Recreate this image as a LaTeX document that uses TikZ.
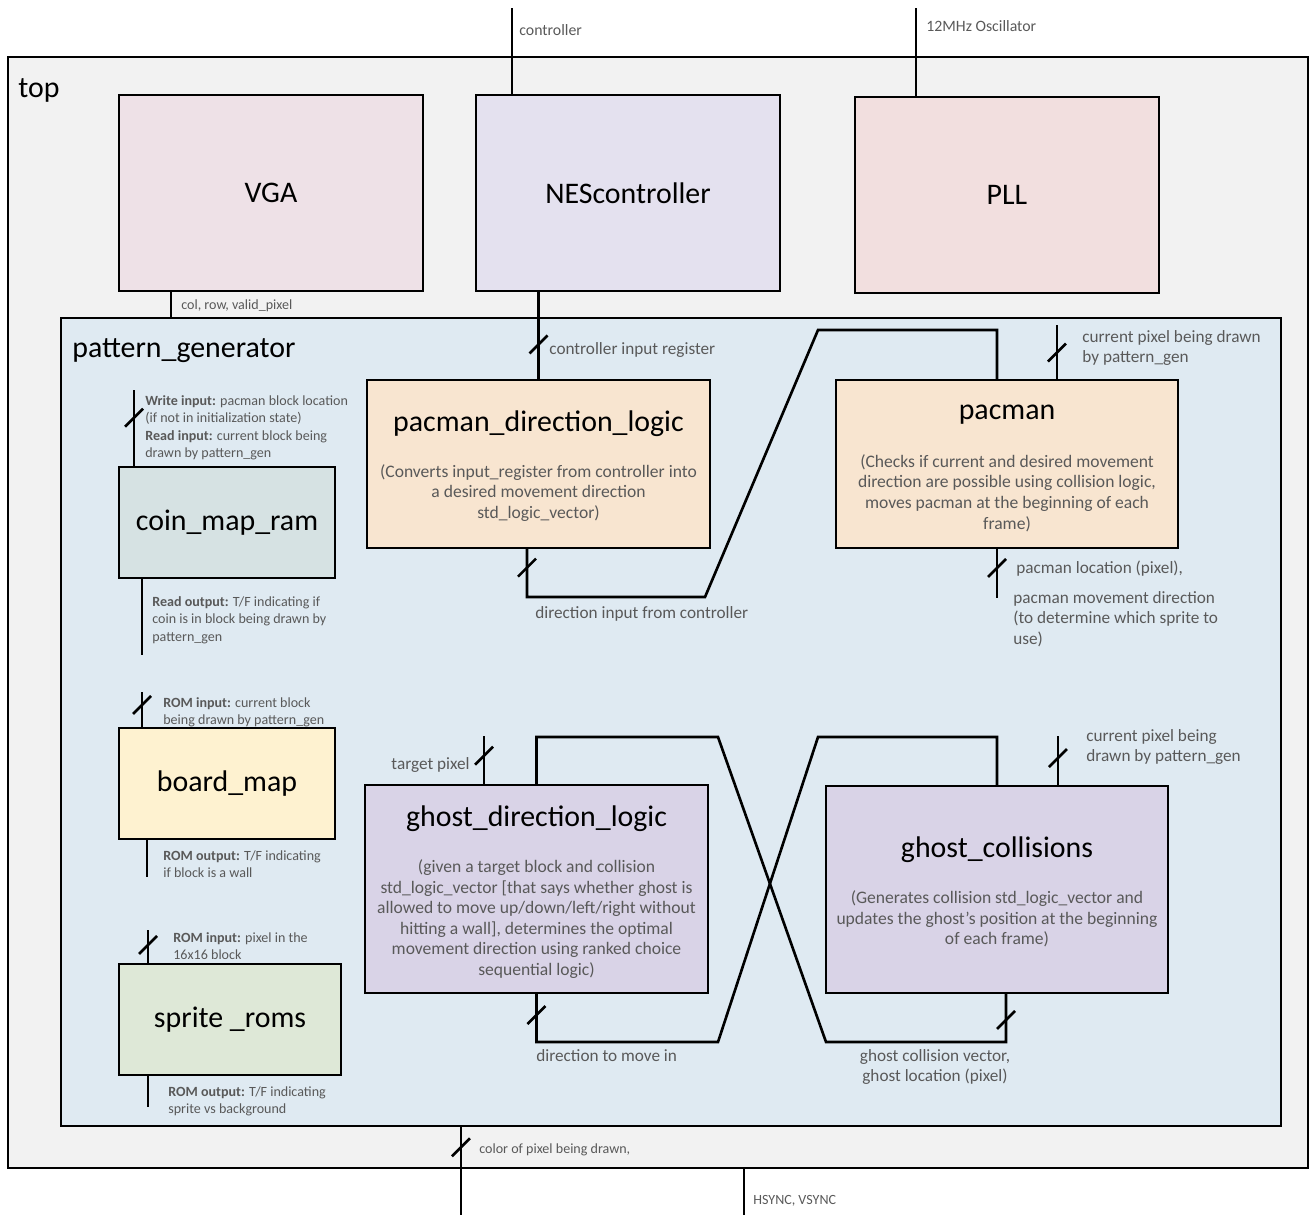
\documentclass[tikz,border=0pt]{standalone}
\usepackage{fontspec}
\setmainfont{Carlito}
\usetikzlibrary{calc}

\definecolor{topfill}{HTML}{F2F2F2}
\definecolor{pgfill}{HTML}{DFEAF2}
\definecolor{vgafill}{HTML}{EEE1E7}
\definecolor{nesfill}{HTML}{E4E1EF}
\definecolor{pllfill}{HTML}{F2DFDF}
\definecolor{pacfill}{HTML}{F8E5D0}
\definecolor{coinfill}{HTML}{D6E2E3}
\definecolor{boardfill}{HTML}{FEF2D0}
\definecolor{spritefill}{HTML}{DEE8D7}
\definecolor{ghostfill}{HTML}{D9D3E7}
\definecolor{labelgray}{HTML}{595959}

\begin{document}
\begin{tikzpicture}[x=0.02cm, y=-0.02cm,
  wire/.style={line width=1.5pt},
  thinwire/.style={line width=0.9pt},
  container/.style={draw, line width=1.2pt, inner sep=0pt, outer sep=0pt},
  module/.style={draw, line width=1.6pt, inner sep=0pt, outer sep=0pt, font=\fontsize{17}{20}\selectfont},
  ttl/.style={inner sep=0pt, font=\fontsize{17}{20}\selectfont},
  desc/.style={inner sep=0pt, align=center, text=labelgray, font=\fontsize{10}{11.7}\selectfont},
  lbl/.style={inner sep=0pt, align=left, text=labelgray, font=\fontsize{9.8}{11.7}\selectfont},
  smalllbl/.style={lbl, font=\fontsize{8}{10}\selectfont},
  busmark/.pic={\draw[wire] (-9,9) -- (9,-9);}]
  \useasboundingbox (0,0) rectangle (1310,1215);

  % containers
  \node[container, fill=topfill, minimum width=26cm, minimum height=22.22cm] (topmod) at (658,612.5) {};
  \node[ttl, anchor=north west] (toplbl) at (18,78) {top};
  \node[container, fill=pgfill, minimum width=24.4cm, minimum height=16.16cm] (pg) at (671,722) {};
  \node[ttl, anchor=north west] (pglbl) at (72,338) {pattern\_generator};

  % top level modules
  \node[module, fill=vgafill, minimum width=6.08cm, minimum height=3.92cm] (vga) at (271,193) {VGA};
  \node[module, fill=nesfill, minimum width=6.08cm, minimum height=3.92cm] (nes) at (628,193) {NEScontroller};
  \node[module, fill=pllfill, minimum width=6.08cm, minimum height=3.92cm] (pll) at (1007,195) {PLL};

  % memories
  \node[module, fill=coinfill, minimum width=4.32cm, minimum height=2.22cm] (coin) at (227,522.5) {coin\_map\_ram};
  \node[module, fill=boardfill, minimum width=4.32cm, minimum height=2.22cm] (board) at (227,783.5) {board\_map};
  \node[module, fill=spritefill, minimum width=4.44cm, minimum height=2.22cm] (sprite) at (230,1019.5) {sprite \_roms};

  % pacman logic
  \node[module, fill=pacfill, minimum width=6.86cm, minimum height=3.36cm] (pdl) at (538.5,464) {};
  \node[ttl] (pdlttl) at ($(pdl.north)+(0,44)$) {pacman\_direction\_logic};
  \node[desc] (pdldesc) at ($(pdl.north)+(0,113)$) {(Converts input\_register from controller into\\a desired movement direction\\std\_logic\_vector)};
  \node[module, fill=pacfill, minimum width=6.84cm, minimum height=3.36cm] (pac) at (1007,464) {};
  \node[ttl] (pacttl) at ($(pac.north)+(0,35)$) {pacman};
  \node[desc] (pacdesc) at ($(pac.north)+(0,113)$) {(Checks if current and desired movement\\direction are possible using collision logic,\\moves pacman at the beginning of each\\frame)};

  % ghost logic
  \node[module, fill=ghostfill, minimum width=6.86cm, minimum height=4.16cm] (gdl) at (536.5,889) {};
  \node[ttl] (gdlttl) at ($(gdl.north)+(0,34)$) {ghost\_direction\_logic};
  \node[desc] (gdldesc) at ($(gdl.north)+(0,134)$) {(given a target block and collision\\std\_logic\_vector [that says whether ghost is\\allowed to move up/down/left/right without\\hitting a wall], determines the optimal\\movement direction using ranked choice\\sequential logic)};
  \node[module, fill=ghostfill, minimum width=6.84cm, minimum height=4.14cm] (gc) at (997,889.5) {};
  \node[ttl] (gcttl) at ($(gc.north)+(0,64)$) {ghost\_collisions};
  \node[desc] (gcdesc) at ($(gc.north)+(0,133)$) {(Generates collision std\_logic\_vector and\\updates the ghost’s position at the beginning\\of each frame)};

  % external inputs
  \coordinate (ctrlIn) at (512,8);
  \draw[thinwire] (ctrlIn) -- (ctrlIn |- nes.north);
  \node[lbl, font=\fontsize{9}{11}\selectfont, anchor=north west] (ctrllbl) at (519,24) {controller};
  \coordinate (oscIn) at (916,8);
  \draw[thinwire] (oscIn) -- (oscIn |- pll.north);
  \node[lbl, font=\fontsize{9}{11}\selectfont, anchor=north west] (osclbl) at (926,20) {12MHz Oscillator};

  % pattern_generator -> VGA
  \coordinate (vgaIn) at ([xshift=-2cm]vga.south);
  \draw[wire] (vgaIn) -- (vgaIn |- pg.north);
  \node[smalllbl, anchor=north west] (vgalbl) at (181,299) {col, row, valid\_pixel};

  % NEScontroller -> pacman_direction_logic
  \draw[wire] (nes.south -| pdl.north) -- pic[pos=.6]{busmark} (pdl.north);
  \node[lbl, anchor=north west] (reglbl) at (549,342) {controller input register};

  % pacman_direction_logic -> pacman
  \coordinate (pdlOut) at ([xshift=-0.23cm]pdl.south);
  \coordinate (dirA) at (705,597);
  \coordinate (dirB) at (818,330);
  \coordinate (pacIn) at ([xshift=-0.2cm]pac.north);
  \draw[wire] (pdlOut) -- pic[pos=.4]{busmark} (pdlOut |- dirA) -- (dirA) -- (dirB) -- (dirB -| pacIn) -- (pacIn);
  \node[lbl, anchor=north west] (dirlbl) at (535,606) {direction input from controller};

  \coordinate (pacPix) at (1057,325);
  \draw[wire] (pacPix) -- pic[pos=.5]{busmark} (pacPix |- pac.north);
  \node[lbl, anchor=north west] (paclblA) at (1082,330) {current pixel being drawn\\by pattern\_gen};
  \coordinate (pacOut) at (997,598);
  \draw[wire] (pacOut |- pac.south) -- pic[pos=.4]{busmark} (pacOut);
  \node[lbl, anchor=north west] (paclblB) at (1016,561) {pacman location (pixel),};
  \node[lbl, anchor=north west] (paclblC) at (1013,591) {pacman movement direction\\(to determine which sprite to\\use)};

  % memory ports
  \coordinate (coinIn) at (134,390);
  \draw[wire] (coinIn) -- pic[pos=.36]{busmark} (coinIn |- coin.north);
  \node[smalllbl, anchor=north west] (coinlblA) at (145,395) {\textbf{Write input:} pacman block location\\(if not in initialization state)\\\textbf{Read input:} current block being\\drawn by pattern\_gen};
  \coordinate (coinOut) at (142,655);
  \draw[wire] (coinOut |- coin.south) -- (coinOut);
  \node[smalllbl, anchor=north west] (coinlblB) at (152,596) {\textbf{Read output:} T/F indicating if\\coin is in block being drawn by\\pattern\_gen};

  \coordinate (boardIn) at (142,692);
  \draw[wire] (boardIn) -- pic[pos=.36]{busmark} (boardIn |- board.north);
  \node[smalllbl, anchor=north west] (boardlblA) at (163,697) {\textbf{ROM input:} current block\\being drawn by pattern\_gen};
  \coordinate (boardOut) at (147,877);
  \draw[wire] (boardOut |- board.south) -- (boardOut);
  \node[smalllbl, anchor=north west] (boardlblB) at (163,850) {\textbf{ROM output:} T/F indicating\\if block is a wall};

  \coordinate (spriteIn) at (148,930);
  \draw[wire] (spriteIn) -- pic[pos=.44]{busmark} (spriteIn |- sprite.north);
  \node[smalllbl, anchor=north west] (spritelblA) at (173,932) {\textbf{ROM input:} pixel in the\\16x16 block};
  \coordinate (spriteOut) at (148,1107);
  \draw[wire] (spriteOut |- sprite.south) -- (spriteOut);
  \node[smalllbl, anchor=north west] (spritelblB) at (168,1086) {\textbf{ROM output:} T/F indicating\\sprite vs background};

  % ghost ports
  \coordinate (tgtIn) at (484,736);
  \draw[wire] (tgtIn) -- pic[pos=.4]{busmark} (tgtIn |- gdl.north);
  \node[lbl, anchor=north east] (tgtlbl) at (470,757) {target pixel};
  \coordinate (gcPix) at (1058,736);
  \draw[wire] (gcPix) -- pic[pos=.44]{busmark} (gcPix |- gc.north);
  \node[lbl, anchor=north west] (gclblA) at (1086,729) {current pixel being\\drawn by pattern\_gen};

  % crossing wires between the ghost modules
  \coordinate (crossTL) at (718,737);
  \coordinate (crossTR) at (818,737);
  \coordinate (crossBL) at (718,1042);
  \coordinate (crossBR) at (826,1042);
  \coordinate (gcOut) at ([xshift=0.18cm]gc.south);
  \draw[wire] (gcOut) -- pic[pos=.55]{busmark} (gcOut |- crossBR) -- (crossBR) -- (crossTL) -- (crossTL -| gdl.north) -- (gdl.north);
  \draw[wire] (gdl.south) -- pic[pos=.45]{busmark} (gdl.south |- crossBL) -- (crossBL) -- (crossTR) -- (crossTR -| gc.north) -- (gc.north);
  \node[lbl, anchor=north west] (movelbl) at (536,1049) {direction to move in};
  \node[lbl, anchor=north, align=center] (gclblB) at (935,1049) {ghost collision vector,\\ghost location (pixel)};

  % outputs to the screen
  \coordinate (colorOut) at (461,1215);
  \draw[wire] (colorOut |- pg.south) -- pic[pos=.24]{busmark} (colorOut);
  \node[smalllbl, anchor=north west] (colorlbl) at (479,1143) {color of pixel being drawn,};
  \coordinate (syncOut) at (744,1215);
  \draw[wire] (syncOut |- topmod.south) -- (syncOut);
  \node[smalllbl, anchor=north west] (synclbl) at (753,1195) {HSYNC, VSYNC};
\end{tikzpicture}
\end{document}
